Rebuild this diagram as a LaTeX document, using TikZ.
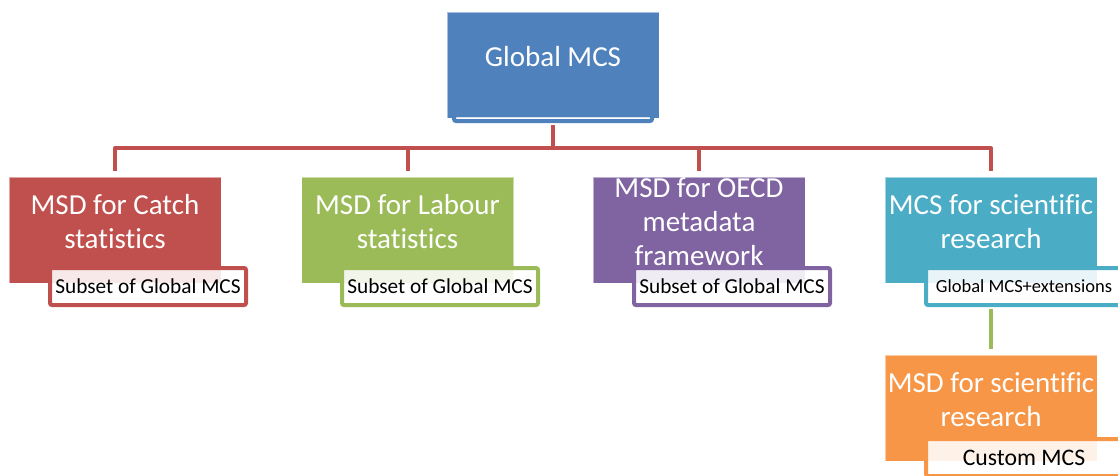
\documentclass[tikz,border=0pt]{standalone}
\usepackage{fontspec}
\setmainfont{Carlito}[Ligatures={CommonOff,ContextualOff}]
\definecolor{mcsblue}{HTML}{4F81BD}
\definecolor{mcsred}{HTML}{C0504D}
\definecolor{mcsgreen}{HTML}{9BBB59}
\definecolor{mcspurple}{HTML}{8064A2}
\definecolor{mcsteal}{HTML}{4BACC6}
\definecolor{mcsorange}{HTML}{F79646}
\begin{document}
\begin{tikzpicture}[x=1pt,y=-1pt,
  box/.style={fill=#1, draw=white, draw opacity=0.5, line width=0.6pt, minimum width=212pt, minimum height=106pt, inner sep=0pt},
  boxtext/.style={text=white, align=center, font=\fontsize{29}{34}\selectfont, yshift=8pt},
  subbox/.style={draw=#1, line width=4pt, rounded corners=2pt, fill=white, fill opacity=0.88, text opacity=1, minimum width=196pt, minimum height=37pt, inner sep=0pt, font=\fontsize{21.3}{24}\selectfont},
  link/.style={draw=mcsred, line width=4pt, line join=round, shorten <=2pt, shorten >=6pt}]
\useasboundingbox (0,0) rectangle (1118,475);
\node[box=mcsblue, label={[boxtext]center:Global MCS}] (global) at (553,65) {};
\node[subbox=mcsblue, minimum width=198pt, minimum height=6pt] (globalsub) at (553,118) {};
\node[box=mcsred, label={[boxtext]center:{MSD for Catch\\statistics}}] (catch) at (115,230) {};
\node[subbox=mcsred] (catchsub) at (148,286.5) {Subset of Global MCS};
\node[box=mcsgreen, label={[boxtext]center:{MSD for Labour\\statistics}}] (labour) at (407.5,230) {};
\node[subbox=mcsgreen] (laboursub) at (440,286.5) {Subset of Global MCS};
\node[box=mcspurple, label={[boxtext]center:{MSD for OECD\\metadata\\framework}}] (oecd) at (699,230) {};
\node[subbox=mcspurple] (oecdsub) at (732,286.5) {Subset of Global MCS};
\node[box=mcsteal, label={[boxtext]center:{MCS for scientific\\research}}] (sci) at (991,230) {};
\node[subbox=mcsteal, font=\fontsize{18.5}{22}\selectfont] (scisub) at (1024,286.5) {Global MCS+extensions};
\node[box=mcsorange, label={[boxtext]center:{MSD for scientific\\research}}] (scimsd) at (991,408) {};
\node[subbox=mcsorange, font=\fontsize{23.7}{28}\selectfont] (scimsdsub) at (1024,457.5) {Custom MCS};
\coordinate (bus) at (553,148);
\draw[link, shorten >=0pt] (globalsub.south) -- (bus);
\foreach \b in {catch,labour,oecd,sci}
  \draw[link, shorten <=0pt] (bus) -| (\b.north);
\draw[link, draw=mcsgreen] (scisub.south -| sci.north) -- (scimsd.north);
\end{tikzpicture}
\end{document}
